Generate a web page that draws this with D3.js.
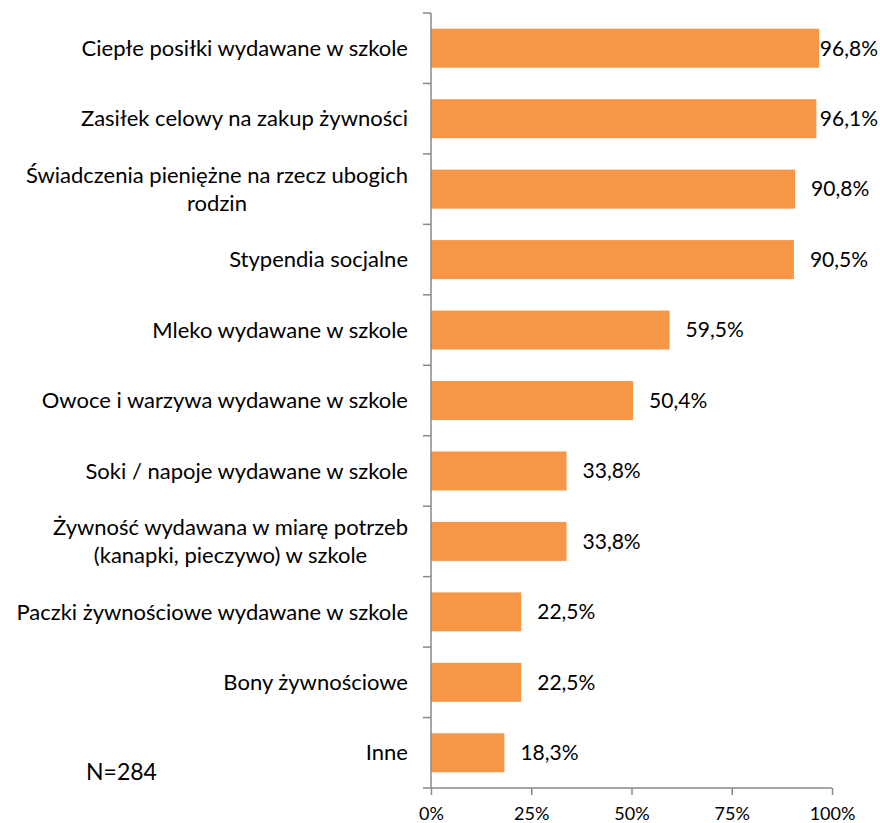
<!DOCTYPE html>
<html>
<head>
<meta charset="utf-8">
<script src="https://cdn.jsdelivr.net/npm/d3@7"></script>
<style>
  body { margin: 0; background: #fff; }
  text { font-family: Lato, "Open Sans", sans-serif; fill: #000; }
</style>
</head>
<body>
<script>
var categories = [
  "Ciepłe posiłki wydawane w szkole",
  "Zasiłek celowy na zakup żywności",
  "Świadczenia pieniężne na rzecz ubogich\nrodzin",
  "Stypendia socjalne",
  "Mleko wydawane w szkole",
  "Owoce i warzywa wydawane w szkole",
  "Soki / napoje wydawane w szkole",
  "Żywność wydawana w miarę potrzeb\n(kanapki, pieczywo) w szkole",
  "Paczki żywnościowe wydawane w szkole",
  "Bony żywnościowe",
  "Inne"
];
var values = [96.8, 96.1, 90.8, 90.5, 59.5, 50.4, 33.8, 33.8, 22.5, 22.5, 18.3];
var ticks = [0, 25, 50, 75, 100];
var note = "N=284";

var width = 880, height = 823;
var axisColor = "#898989", barColor = "#F79646";

var svg = d3.select("body").append("svg")
    .attr("width", width)
    .attr("height", height);

var x = d3.scaleLinear().domain([0, 100]).range([431, 832]);
var y = d3.scaleBand().domain(categories).range([13, 788])
    .paddingInner(0.447).paddingOuter(0.2235);

// bars
svg.selectAll(".bar")
    .data(values)
    .enter().append("rect")
    .attr("class", "bar")
    .attr("x", x(0))
    .attr("y", function(d, i) { return y(categories[i]); })
    .attr("width", function(d) { return x(d) - x(0); })
    .attr("height", y.bandwidth())
    .style("fill", barColor);

// y axis line and ticks between categories
var step = y.step();
svg.append("line")
    .attr("x1", x(0)).attr("x2", x(0))
    .attr("y1", 13).attr("y2", 788)
    .style("stroke", axisColor).style("stroke-width", 1.5);

svg.selectAll(".ytick")
    .data(d3.range(categories.length + 1))
    .enter().append("line")
    .attr("class", "ytick")
    .attr("x1", x(0) - 8).attr("x2", x(0))
    .attr("y1", function(d) { return 13 + d * step; })
    .attr("y2", function(d) { return 13 + d * step; })
    .style("stroke", axisColor).style("stroke-width", 1.5);

// x axis
var xAxis = svg.append("g")
    .attr("transform", "translate(0,788)")
    .call(d3.axisBottom(x).tickValues(ticks).tickSize(7).tickPadding(12)
        .tickFormat(function(d) { return d + "%"; }));
xAxis.select(".domain").style("stroke", axisColor).style("stroke-width", 1.5)
    .attr("d", "M" + x(0) + ",0H" + x(100));
xAxis.selectAll(".tick line").style("stroke", axisColor).style("stroke-width", 1.5);
xAxis.selectAll("text").style("font-size", "18px").style("font-family", "Lato, sans-serif").attr("fill", "#000");

// category labels (right aligned block, lines centred)
var labelRight = 408;
categories.forEach(function(c) {
    var lines = c.split("\n");
    var cy = y(c) + y.bandwidth() / 2;
    var g = svg.append("g");
    var texts = lines.map(function(l, k) {
        return g.append("text")
            .attr("y", cy + (k - (lines.length - 1) / 2) * 28)
            .attr("dy", "0.35em")
            .attr("text-anchor", "middle")
            .style("font-size", "22px")
            .text(l);
    });
    var w = d3.max(texts, function(t) { return t.node().getComputedTextLength(); });
    texts.forEach(function(t) { t.attr("x", labelRight - w / 2); });
});

// value labels
values.forEach(function(v, i) {
    var t = svg.append("text")
        .attr("y", y(categories[i]) + y.bandwidth() / 2)
        .attr("dy", "0.35em")
        .style("font-size", "21px")
        .text(String(v.toFixed(1)).replace(".", ",") + "%");
    var w = t.node().getComputedTextLength();
    t.attr("x", Math.min(x(v) + 16, 878 - w));
});

svg.append("text")
    .attr("x", 86).attr("y", 772)
    .attr("dy", "0.35em")
    .style("font-size", "23px")
    .text(note);
</script>
</body>
</html>
